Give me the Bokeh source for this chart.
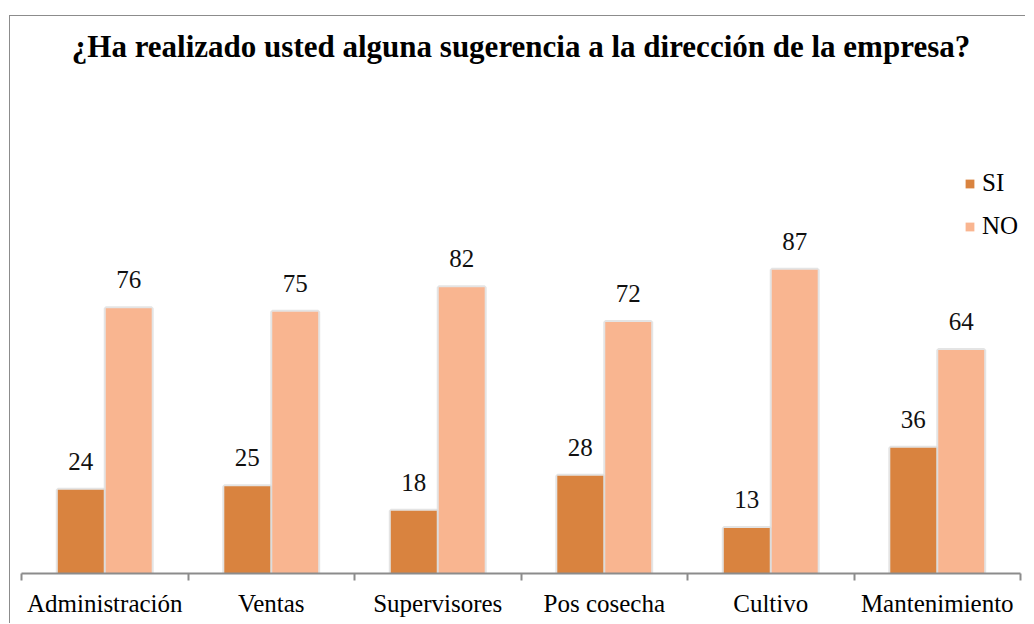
import numpy as np
from bokeh.plotting import figure
from bokeh.models import (ColumnDataSource, Range1d, FixedTicker, LabelSet,
                          Legend, LegendItem)
from bokeh.transform import dodge
from bokeh.embed import file_html
from bokeh.resources import INLINE

categories = ["Administración", "Ventas", "Supervisores", "Pos cosecha", "Cultivo", "Mantenimiento"]
si_values = [24, 25, 18, 28, 13, 36]
no_values = [76, 75, 82, 72, 87, 64]
series_names = ["SI", "NO"]
title_text = "¿Ha realizado usted alguna sugerencia a la dirección de la empresa?"

SI_COLOR = "#D9833F"
NO_COLOR = "#F9B590"
FONT = "Liberation Serif"

pos = np.arange(len(categories)) + 0.5
src = ColumnDataSource(dict(
    x=pos, si=si_values, no=no_values,
    si_txt=[str(v) for v in si_values], no_txt=[str(v) for v in no_values],
))

p = figure(width=1016, height=608, output_backend="svg", toolbar_location=None,
           x_range=Range1d(0, len(categories)), y_range=Range1d(0, 143.2),
           y_axis_location=None, min_border_left=11, min_border_right=6,
           min_border_top=0, min_border_bottom=51)
p.styles = {"margin-left": "9px", "margin-top": "15px",
            "border-left": "1px solid #8c8c8c", "border-top": "1px solid #8c8c8c"}

p.title.text = title_text
p.title.text_font = FONT
p.title.text_font_size = "31px"
p.title.text_font_style = "bold"
p.title.text_color = "#000000"
p.title.align = "center"
p.title.standoff = 20

p.xgrid.visible = False
p.ygrid.visible = False
p.outline_line_color = None
p.background_fill_color = "white"
p.border_fill_color = "white"

BW = 0.276
OFF = 0.144
# soft shadows
for col, off in (("si", -OFF), ("no", OFF)):
    p.vbar(x=dodge("x", off, range=p.x_range), top=col, width=BW, bottom=0, source=src,
           fill_color=None, line_color="#d9d9d9", line_alpha=0.7, line_width=4)
r_si = p.vbar(x=dodge("x", -OFF, range=p.x_range), top="si", width=BW, bottom=0, source=src,
              fill_color=SI_COLOR, line_color=None)
r_no = p.vbar(x=dodge("x", OFF, range=p.x_range), top="no", width=BW, bottom=0, source=src,
              fill_color=NO_COLOR, line_color=None)

for col, off in (("si", -OFF), ("no", OFF)):
    p.add_layout(LabelSet(x=dodge("x", off, range=p.x_range), y=col, text=col + "_txt", source=src,
                          text_align="center", text_baseline="bottom", y_offset=20,
                          text_font=FONT, text_font_size="25px", text_color="#111111"))

ax = p.xaxis[0]
ax.ticker = FixedTicker(ticks=list(pos), minor_ticks=list(range(len(categories) + 1)))
ax.major_label_overrides = {float(x): c for x, c in zip(pos, categories)}
ax.major_label_text_font = FONT
ax.major_label_text_font_size = "25px"
ax.major_label_text_color = "#000000"
ax.major_label_standoff = 9
ax.major_tick_out = 0
ax.major_tick_in = 0
ax.minor_tick_out = 7
ax.minor_tick_in = 0
ax.minor_tick_line_color = "#8c8c8c"
ax.minor_tick_line_width = 2
ax.axis_line_color = "#8c8c8c"
ax.axis_line_width = 2

legend = Legend(items=[LegendItem(label=series_names[0], renderers=[r_si]),
                       LegendItem(label=series_names[1], renderers=[r_no])],
                location=(943, 332), orientation="vertical",
                glyph_width=11, glyph_height=11, label_height=30, spacing=13,
                label_standoff=7, padding=0, margin=0,
                label_text_font=FONT, label_text_font_size="25px",
                label_text_color="#000000",
                border_line_color=None, background_fill_alpha=0)
p.add_layout(legend, "center")

open("out.html", "w").write(file_html(p, INLINE))
